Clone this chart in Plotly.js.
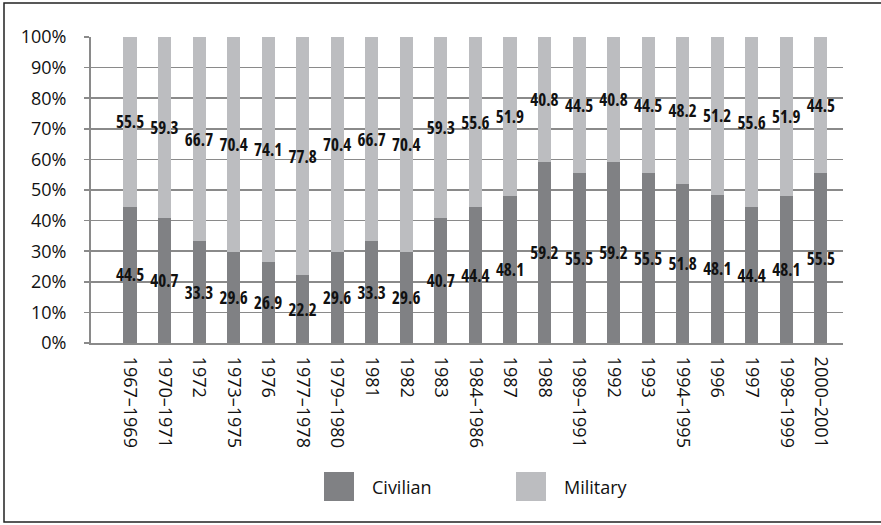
<!DOCTYPE html>
<html>
<head>
<meta charset="utf-8">
<script src="https://cdn.plot.ly/plotly-3.0.1.min.js"></script>
<style>
html,body{margin:0;padding:0;background:#fff}
#chart{width:881px;height:525px}
#chart text.bartext{font-stretch:condensed !important;font-weight:bold !important}
</style>
</head>
<body>
<div id="chart"></div>
<script>
const categories = ["1967–1969","1970–1971","1972","1973–1975","1976","1977–1978","1979–1980","1981","1982","1983","1984–1986","1987","1988","1989–1991","1992","1993","1994–1995","1996","1997","1998–1999","2000–2001"];
const civilian = [44.5,40.7,33.3,29.6,26.9,22.2,29.6,33.3,29.6,40.7,44.4,48.1,59.2,55.5,59.2,55.5,51.8,48.1,44.4,48.1,55.5];
const military = [55.5,59.3,66.7,70.4,74.1,77.8,70.4,66.7,70.4,59.3,55.6,51.9,40.8,44.5,40.8,44.5,48.2,51.2,55.6,51.9,44.5];
const yTicks = [0,10,20,30,40,50,60,70,80,90,100];

const labelFont = {family: "'Open Sans',sans-serif", size: 17, color: '#111', weight: 'bold', stretch: 'condensed'};
const axisFont = {family: "'Open Sans','Noto Sans',sans-serif", size: 18, color: '#111'};

const mk = (name, vals, color) => ({
  type: 'bar', name: name, x: categories, y: vals,
  marker: {color: color},
  text: vals.map(v => v.toFixed(1)),
  textposition: 'inside', insidetextanchor: 'middle', textangle: 0,
  constraintext: 'none', cliponaxis: false,
  textfont: labelFont,
  hoverinfo: 'skip'
});

const data = [mk('Civilian', civilian, '#808184'), mk('Military', military, '#bcbdc0')];

const px = x => (x - 91) / 752, py = y => (343 - y) / 306;
const layout = {
  width: 881, height: 525,
  margin: {l: 91, r: 38, t: 37, b: 182},
  barmode: 'stack', barnorm: 'percent', bargap: 0.62,
  showlegend: false,
  paper_bgcolor: '#fff', plot_bgcolor: '#fff',
  font: axisFont,
  xaxis: {
    type: 'category', range: [-1.13, 20.64],
    tickangle: 90, ticks: '', showgrid: false,
    showline: true, linecolor: '#8a8a8a', linewidth: 2,
    tickfont: axisFont, ticklabelstandoff: 8
  },
  yaxis: {
    range: [0, 100], tickvals: yTicks, ticktext: yTicks.map(v => v + '%'),
    showgrid: true, gridcolor: '#8a8a8a', gridwidth: 1.5,
    showline: true, linecolor: '#8a8a8a', linewidth: 2,
    ticks: 'outside', ticklen: 5, tickcolor: '#8a8a8a', tickwidth: 1.5,
    zeroline: false, tickfont: axisFont, ticklabelstandoff: 14
  },
  shapes: [
    {type: 'rect', xref: 'paper', yref: 'paper', x0: px(4), x1: px(882), y0: py(522), y1: py(3), line: {color: '#222', width: 1.5}, fillcolor: 'rgba(0,0,0,0)'},
    {type: 'rect', xref: 'paper', yref: 'paper', x0: px(324), x1: px(354), y0: py(501), y1: py(472), line: {width: 0}, fillcolor: '#808184'},
    {type: 'rect', xref: 'paper', yref: 'paper', x0: px(516), x1: px(546), y0: py(501), y1: py(472), line: {width: 0}, fillcolor: '#bcbdc0'}
  ],
  annotations: [
    {xref: 'paper', yref: 'paper', x: px(370), y: py(487), xanchor: 'left', yanchor: 'middle', text: 'Civilian', showarrow: false, font: axisFont},
    {xref: 'paper', yref: 'paper', x: px(562), y: py(487), xanchor: 'left', yanchor: 'middle', text: 'Military', showarrow: false, font: axisFont}
  ]
};

Plotly.newPlot('chart', data, layout, {displayModeBar: false, staticPlot: true});
</script>
</body>
</html>
